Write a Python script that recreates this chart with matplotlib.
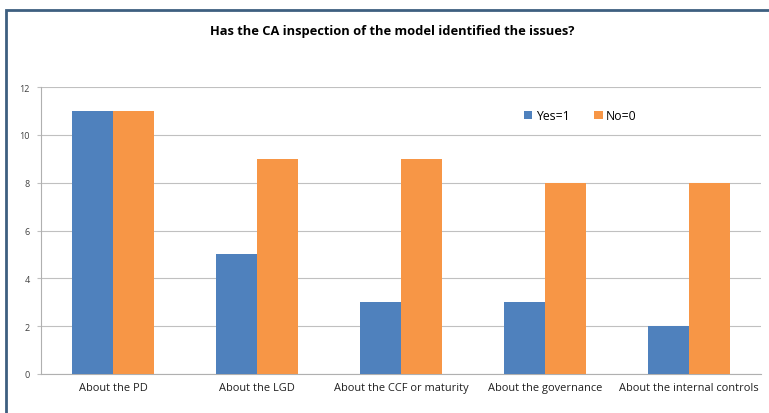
import matplotlib.pyplot as plt
import numpy as np
from matplotlib.patches import Rectangle

plt.rcParams['font.family'] = ['Open Sans', 'DejaVu Sans']

categories = ['About the PD', 'About the LGD', 'About the CCF or maturity',
              'About the governance', 'About the internal controls']
yes_vals = [11, 5, 3, 3, 2]
no_vals = [11, 9, 9, 8, 8]

fig = plt.figure(figsize=(7.69, 4.14), dpi=100)
W, H = 769, 414

# outer frame (cropped at right and bottom)
fig.patches.append(Rectangle((6 / W, -0.1), 1.2, (H - 11) / H + 0.1,
                             transform=fig.transFigure, fill=False,
                             edgecolor='#3d5f80', linewidth=2))

ax = fig.add_axes([41 / W, 39 / H, 720 / W, 287 / H])
x = np.arange(len(categories))
w = 0.285
ax.bar(x - w / 2, yes_vals, w, color='#4f81bd', label='Yes=1', zorder=3)
ax.bar(x + w / 2, no_vals, w, color='#f79646', label='No=0', zorder=3)

ax.set_xlim(-0.5, len(categories) - 0.5)
ax.set_ylim(0, 12)
ax.set_yticks(range(0, 13, 2))
ax.yaxis.grid(True, color='#c0c0c0', linewidth=0.8, zorder=0)
ax.set_xticks(x)
ax.set_xticklabels(categories, fontsize=7.9)
ax.tick_params(axis='y', labelsize=6.5, colors='#404040', length=3, pad=5, color='#c0c0c0')
ax.tick_params(axis='x', length=0, pad=6, colors='#202020')
for s in ['top', 'right']:
    ax.spines[s].set_visible(False)
for s in ['left', 'bottom']:
    ax.spines[s].set_color('#b0b0b0')

ax.legend(loc='upper left', bbox_to_anchor=(0.655, 0.96), ncol=2, frameon=False,
          fontsize=8.8, handlelength=0.7, handleheight=0.7, handletextpad=0.3,
          columnspacing=2.0)

fig.text(392 / W, (H - 31) / H, 'Has the CA inspection of the model identified the issues?',
         ha='center', va='center', fontsize=9.3, fontweight='bold')

fig.savefig('out.png', dpi=100)
